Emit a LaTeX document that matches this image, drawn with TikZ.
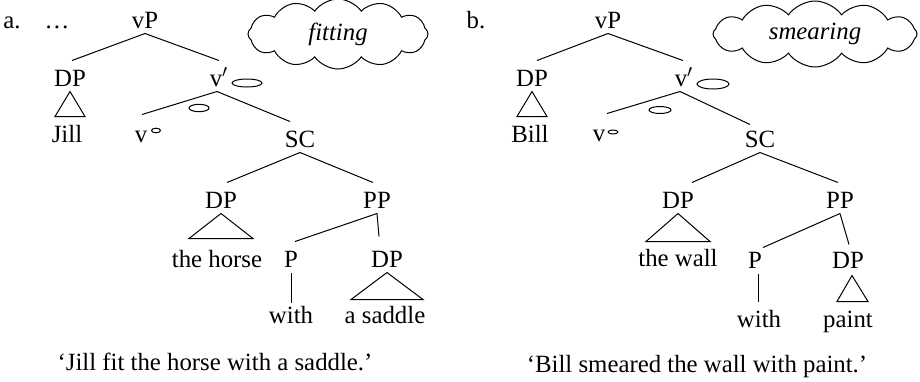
\documentclass[tikz,border=0pt]{standalone}
\usepackage{fontspec}
\setmainfont{Liberation Serif}
\usetikzlibrary{calc,shapes.symbols}

\begin{document}
\begin{tikzpicture}[
    x=0.5pt, y=-0.5pt,
    line width=0.5pt,
    every node/.style={font=\fontsize{12.4}{14}\selectfont},
    cat/.style={anchor=base, text height=12pt, text depth=2pt, inner sep=0.5pt},
    gloss/.style={anchor=base, inner sep=0pt},
    thought/.style={cloud, draw, cloud puffs=12, cloud puff arc=110,
        cloud ignores aspect, minimum height=35pt, inner sep=0pt,
        font=\fontsize{12.4}{14}\selectfont\itshape},
]
\useasboundingbox (0,0) rectangle (920,381);

% Panel a
\node[cat] (la) at (12,28) {a.};
\node[cat] (dots) at (57,28) {\dots};
\node[cat] (vpa) at (145,28) {vP};
\node[cat] (dpa) at (70,86) {DP};
\node[cat] (vbara) at (219,86) {v$'$};
\node[cat] (jill) at (67,142) {Jill};
\node[cat] (va) at (141,142) {v};
\node[cat] (sca) at (300,147) {SC};
\node[cat] (dpha) at (221,208) {DP};
\node[cat] (ppa) at (377,208) {PP};
\node[cat] (horse) at (217,267) {the horse};
\node[cat] (pa) at (291,267) {P};
\node[cat] (dpsa) at (387,267) {DP};
\node[cat] (witha) at (291,323) {with};
\node[cat] (saddle) at (385,323) {a saddle};
\node[gloss] (glossa) at (215,370) {`Jill fit the horse with a saddle.'};
\node[thought, minimum width=90pt] (thinka) at (338,34) {fitting};

\draw (vpa.south) -- ($(dpa.north)+(2,0)$);
\draw (vpa.south) -- ($(vbara.north)+(0,0)$);
\draw ($(vbara.south)+(-2,0)$) -- ($(va.north)+(1,-2)$);
\draw ($(vbara.south)+(-2,0)$) -- ($(sca.north)+(-10,0)$);
\draw (sca.south) -- ($(dpha.north)+(6,0)$);
\draw (sca.south) -- ($(ppa.north)+(-4,0)$);
\draw (ppa.south) -- ($(pa.north)+(4,0)$);
\draw (ppa.south) -- ($(dpsa.north)+(-8,-5)$);
\draw (pa.south) -- ($(witha.north)+(0,5)$);
\draw (dpa.south) -- ($(dpa.south |- jill.north)+(-15,0)$) -- ++(30,0) -- cycle;
\draw (dpha.south) -- ($(dpha.south |- horse.north)+(-32,-3)$) -- ++(64,0) -- cycle;
\draw (dpsa.south) -- ($(dpsa.south |- saddle.north)+(-36,2)$) -- ++(72,0) -- cycle;

% thought bubbles a
\draw (247,83) ellipse (15 and 4);
\draw (199,108) ellipse (10 and 3.7);
\draw (156,130.5) ellipse (4.5 and 2.3);

% Panel b
\node[cat] (lb) at (476,28) {b.};
\node[cat] (vpb) at (608,28) {vP};
\node[cat] (dpb) at (532,86) {DP};
\node[cat] (vbarb) at (684,86) {v$'$};
\node[cat] (bill) at (530,142) {Bill};
\node[cat] (vb) at (599,141) {v};
\node[cat] (scb) at (760,147) {SC};
\node[cat] (dphb) at (678,208) {DP};
\node[cat] (ppb) at (840,208) {PP};
\node[cat] (wall) at (678,266) {the wall};
\node[cat] (pb) at (755,268) {P};
\node[cat] (dpsb) at (848,268) {DP};
\node[cat] (withb) at (759,327) {with};
\node[cat] (paint) at (848,327) {paint};
\node[gloss] (glossb) at (697,372) {`Bill smeared the wall with paint.'};
\node[thought, minimum width=102pt, minimum height=33pt] (thinkb) at (815,34) {smearing};

\draw (vpb.south) -- ($(dpb.north)+(5,0)$);
\draw (vpb.south) -- ($(vbarb.north)+(-1,0)$);
\draw ($(vbarb.south)+(-4,0)$) -- ($(vb.north)+(8,-2)$);
\draw ($(vbarb.south)+(-4,0)$) -- ($(scb.north)+(-10,3)$);
\draw (scb.south) -- ($(dphb.north)+(14,0)$);
\draw (scb.south) -- ($(ppb.north)+(-2,0)$);
\draw (ppb.south) -- ($(pb.north)+(8,5)$);
\draw (ppb.south) -- ($(dpsb.north)+(1,2)$);
\draw ($(pb.south)+(3,0)$) -- ($(withb.north)+(-1,0)$);
\draw (dpb.south) -- ($(dpb.south |- bill.north)+(-15,0)$) -- ++(30,0) -- cycle;
\draw (dphb.south) -- ($(dphb.south |- wall.north)+(-32,1)$) -- ++(64,0) -- cycle;
\draw ($(dpsb.south)+(4,2)$) -- ($(dpsb.south |- paint.north)+(-11,0)$) -- ++(31,0) -- cycle;

% thought bubbles b
\draw (713,84) ellipse (16 and 5);
\draw (660,110) ellipse (11 and 3.5);
\draw (613,132) ellipse (5 and 2);

\end{tikzpicture}
\end{document}
